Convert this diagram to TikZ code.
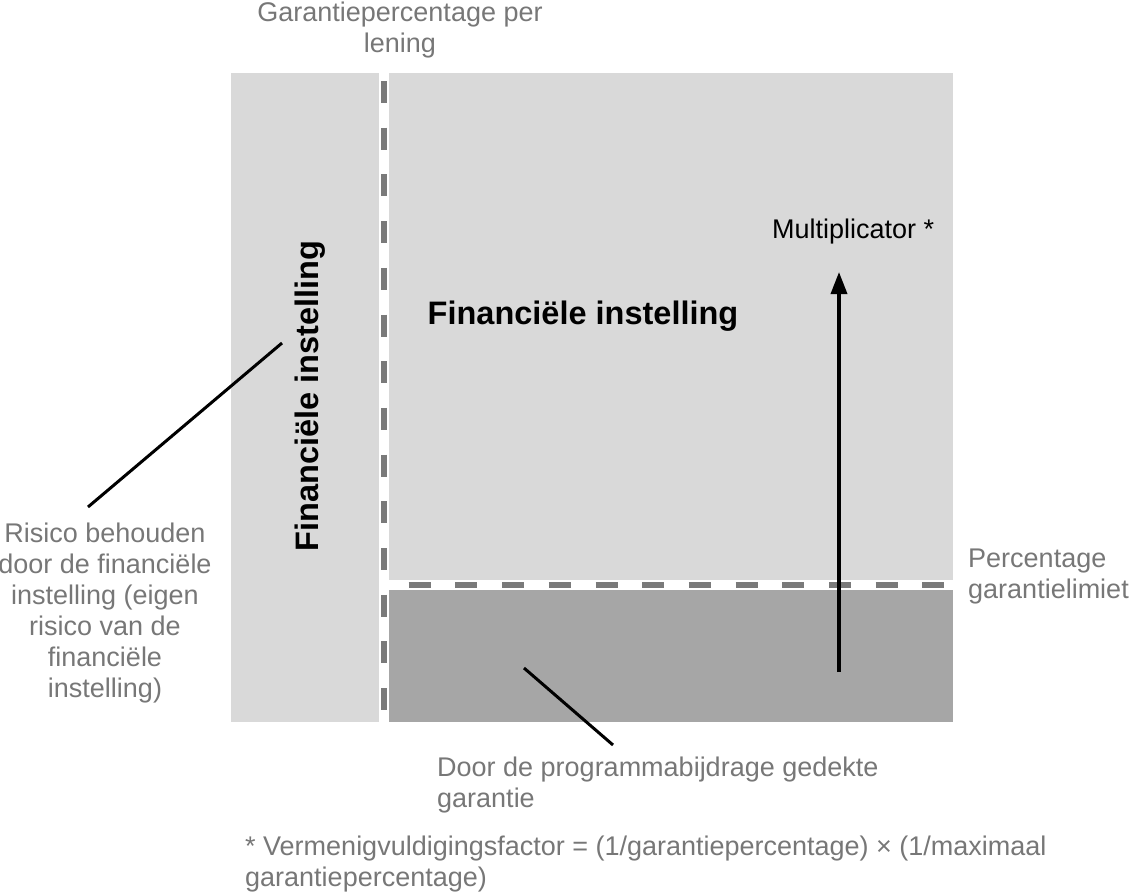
\documentclass[tikz,border=0pt]{standalone}
\usepackage{fontspec}
\setmainfont{Liberation Sans}
\usetikzlibrary{arrows.meta}
\definecolor{lightfill}{HTML}{D9D9D9}
\definecolor{darkfill}{HTML}{A6A6A6}
\definecolor{dashgray}{HTML}{7A7A7A}
\definecolor{txtgray}{HTML}{777777}
\tikzset{
  lbl/.style={inner sep=0pt, text=txtgray, font=\fontsize{27}{31}\selectfont},
  lblblack/.style={inner sep=0pt, text=black, font=\fontsize{27}{31}\selectfont},
  bigbold/.style={inner sep=0pt, text=black, font=\fontsize{32.5}{36}\selectfont\bfseries},
  pointer/.style={draw=black, line width=3pt},
  whiteband/.style={draw=white, line width=10pt},
  greydash/.style={draw=dashgray, line width=6pt, dash pattern=on 22pt off 24.7pt},
}
\begin{document}
\begin{tikzpicture}[x=1pt,y=-1pt]
\useasboundingbox (0,0) rectangle (1129,894);
% areas
\fill[lightfill] (231,73) rectangle (953,722);
\fill[darkfill] (387,585) rectangle (953,722);
% coordinates of the dashed separators
\coordinate (vtop) at (384,73);
\coordinate (vbot) at (384,722);
\coordinate (hl) at (384,585);
\coordinate (hr) at (953,585);
\draw[whiteband] (vtop) -- (vbot);
\draw[whiteband] (hl) -- (hr);
\draw[greydash, dash phase=38.7pt] (vtop) -- (vbot);
\draw[greydash, dash phase=22pt] (hl) -- (hr);
% texts (base anchor = baseline of the last line)
\node[lbl, align=center, anchor=base] (top) at (400,52) {Garantiepercentage per\\lening};
\node[bigbold, anchor=base] (fimain) at (583,324) {Financiële instelling};
\node[bigbold, anchor=base, rotate=90] (firot) at (318,396) {Financiële instelling};
\node[lblblack, anchor=base west] (mult) at (772,238) {Multiplicator *};
\node[lbl, align=left, anchor=base west] (pgl) at (968,598) {Percentage\\garantielimiet};
\node[lbl, align=center, anchor=base] (risk) at (105,697) {Risico behouden\\door de financiële\\instelling (eigen\\risico van de\\financiële\\instelling)};
\node[lbl, align=left, anchor=base west] (door) at (437,807) {Door de programmabijdrage gedekte\\garantie};
\node[lbl, align=left, anchor=base west] (foot) at (245,886) {* Vermenigvuldigingsfactor = (1/garantiepercentage) × (1/maximaal\\garantiepercentage)};
% connectors
\coordinate (arrbot) at (839,672);
\coordinate (arrtop) at (839,272);
\draw[line width=3.5pt, -{Triangle[length=22pt,width=16pt]}] (arrbot) -- (arrtop);
\coordinate (p1a) at (88,507);
\coordinate (p1b) at (282,343);
\draw[pointer] (p1a) -- (p1b);
\coordinate (p2a) at (524,668);
\coordinate (p2b) at (613,745);
\draw[pointer] (p2a) -- (p2b);
\end{tikzpicture}
\end{document}
